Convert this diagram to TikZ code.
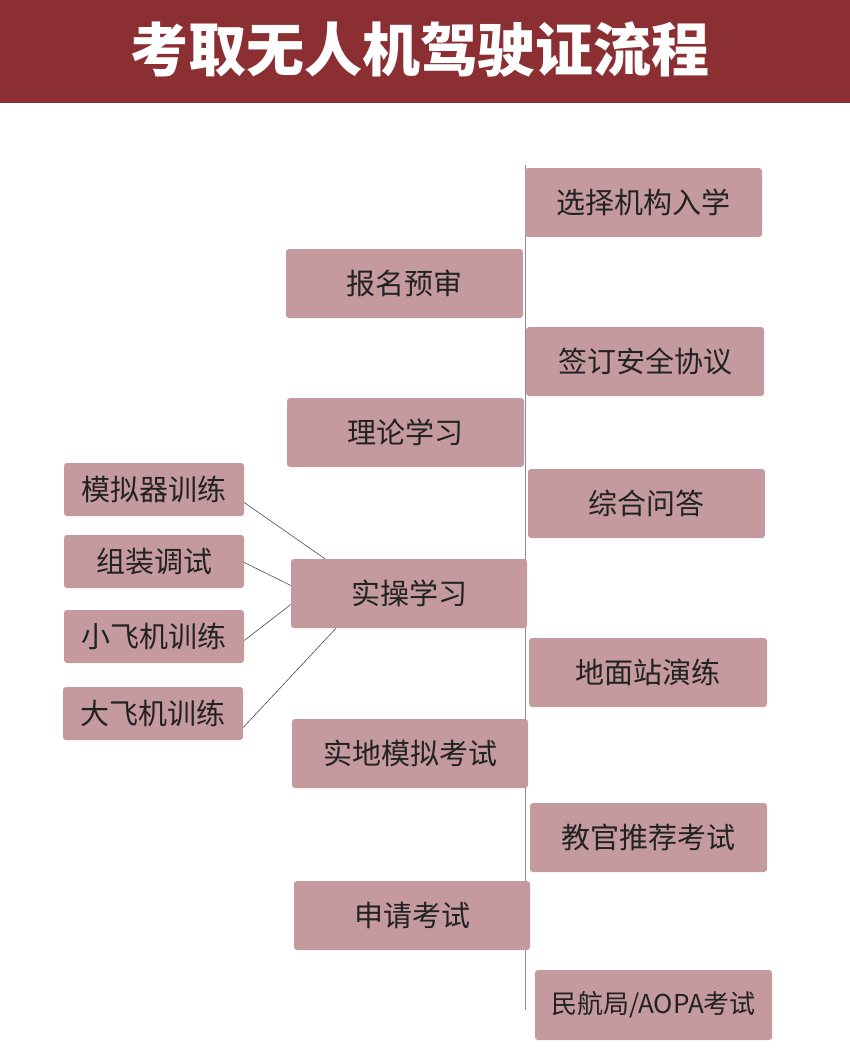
\documentclass[tikz,border=0pt]{standalone}
\usepackage{fontspec}
\setmainfont{Noto Sans CJK SC}
\newfontfamily\titlefont{Noto Sans CJK SC Black}
\definecolor{band}{HTML}{8C2F33}
\definecolor{boxc}{HTML}{C49A9E}
\definecolor{txt}{HTML}{222222}
\tikzset{
  bx/.style={fill=boxc,rounded corners=3pt,inner sep=0pt,text=txt,font=\fontsize{29}{32}\selectfont},
  sm/.style={fill=boxc,rounded corners=3pt,inner sep=0pt,text=txt,font=\fontsize{26}{28}\selectfont},
  ln/.style={draw=black!70,line width=0.6pt}
}
\newcommand{\bxat}[6]{\node[#1,minimum width={#4-#3},minimum height={#6-#5}] (#2) at ({(#3+#4)/2},{-(#5+#6)/2})}
\begin{document}
\begin{tikzpicture}[x=1pt,y=1pt]
\useasboundingbox (0,0) rectangle (850,-1061);
\fill[white] (0,0) rectangle (850,-1061);
\fill[band] (0,0) rectangle (850,-103);
\node[text=white,font=\titlefont\fontsize{58}{62}\selectfont] (title) at (420,-50) {考取无人机驾驶证流程};
\coordinate (vt) at (525,-165);
\coordinate (vb) at (525,-1010);
\draw[draw=black!45,line width=0.8pt] (vt) -- (vb);
\bxat{bx}{m1}{286}{523}{249}{318}{报名预审};
\bxat{bx}{m2}{287}{524}{398}{467}{理论学习};
\bxat{bx}{m3}{291}{527}{559}{628}{实操学习};
\bxat{bx}{m4}{292}{528}{719}{788}{实地模拟考试};
\bxat{bx}{m5}{294}{530}{881}{950}{申请考试};
\bxat{bx}{r1}{525}{762}{168}{237}{选择机构入学};
\bxat{bx}{r2}{526}{764}{327}{396}{签订安全协议};
\bxat{bx}{r3}{528}{765}{469}{538}{综合问答};
\bxat{bx}{r4}{529}{767}{638}{707}{地面站演练};
\bxat{bx}{r5}{530}{767}{803}{872}{教官推荐考试};
\bxat{sm}{r6}{535}{772}{970}{1040}{民航局/AOPA考试};
\bxat{bx}{l1}{64}{244}{463}{516}{模拟器训练};
\bxat{bx}{l2}{64}{244}{535}{588}{组装调试};
\bxat{bx}{l3}{64}{244}{610}{663}{小飞机训练};
\bxat{bx}{l4}{63}{243}{687}{740}{大飞机训练};
\draw[ln] ([yshift=-13pt]l1.east) -- ([xshift=-84pt]m3.north);
\draw[ln] ([yshift=-1pt]l2.east) -- ([yshift=8pt]m3.west);
\draw[ln] ([yshift=-4pt]l3.east) -- ([yshift=-11pt]m3.west);
\draw[ln] ([yshift=-14pt]l4.east) -- ([xshift=-73pt]m3.south);
\end{tikzpicture}
\end{document}
